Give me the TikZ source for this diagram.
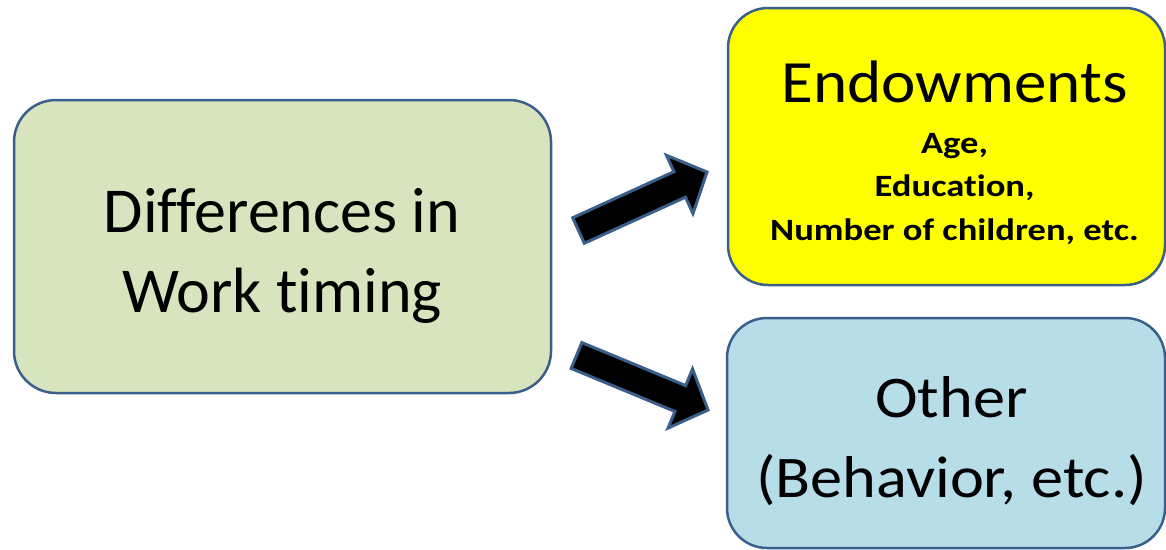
\documentclass[tikz,border=0pt]{standalone}
\usepackage{fontspec}
\setmainfont[Ligatures={NoCommon,NoRare}]{Carlito}
\newfontfamily\endwfont[FakeStretch=1.085, Ligatures={NoCommon,NoRare}]{Carlito}
\newfontfamily\subfont[FakeStretch=1.18, Ligatures={NoCommon,NoRare}]{Carlito}
\newfontfamily\otherfont[FakeStretch=1.09, Ligatures={NoCommon,NoRare}]{Carlito}
\usetikzlibrary{calc}
\definecolor{edgeblue}{HTML}{3A5F8B}
\definecolor{olivefill}{HTML}{D7E4BD}
\definecolor{bluefill}{HTML}{B7DEE8}
\definecolor{yellowfill}{HTML}{FFFF00}
\newcommand\blockarrow[2]{%
  \coordinate (#1base) at ($(#2)!30pt!(#1)$);
  \draw[arrowbody] ($(#1)!14pt!90:(#2)$) -- ($(#1base)!14pt!90:(#2)$) -- ($(#1base)!32pt!90:(#2)$) -- (#2)
    -- ($(#1base)!32pt!-90:(#2)$) -- ($(#1base)!14pt!-90:(#2)$) -- ($(#1)!14pt!-90:(#2)$) -- cycle;}
\begin{document}
\begin{tikzpicture}[x=1pt,y=-1pt,
  box/.style={draw=edgeblue, line width=2.5pt, rounded corners=42pt, inner sep=0pt},
  arrowbody/.style={draw=edgeblue, fill=black, line width=3pt, line join=miter},
  txt/.style={align=center, inner sep=0pt, text=black}]
\useasboundingbox (0,0) rectangle (1166,549);
\node[box, fill=olivefill, minimum width=537pt, minimum height=293pt] (diff) at (282.5,246.5) {};
\node[box, fill=yellowfill, minimum width=437pt, minimum height=277pt, rounded corners=40pt] (endw) at (946.5,146.5) {};
\node[box, fill=bluefill, minimum width=438pt, minimum height=230pt, rounded corners=40pt] (other) at (946,433) {};
\node[txt, font=\fontsize{64}{80}\selectfont] (difft) at (282,256) {Differences in\\Work timing};
\node[txt, font=\subfont\fontsize{31}{43.5}\selectfont\bfseries] (endwt) at (954.5,152.5) {{\endwfont\fontsize{60}{60}\selectfont\mdseries Endowments}\\[7.5pt]Age,\\Education,\\Number of children, etc.};
\node[txt, font=\otherfont\fontsize{59}{80}\selectfont] (othert) at (951.5,441.5) {Other\\(Behavior, etc.)};
\coordinate (a1t) at (578.5,230.5);
\coordinate (a1h) at (707,172);
\coordinate (a2t) at (576.5,355.5);
\coordinate (a2h) at (708,410);
\blockarrow{a1t}{a1h}
\blockarrow{a2t}{a2h}
\end{tikzpicture}
\end{document}
